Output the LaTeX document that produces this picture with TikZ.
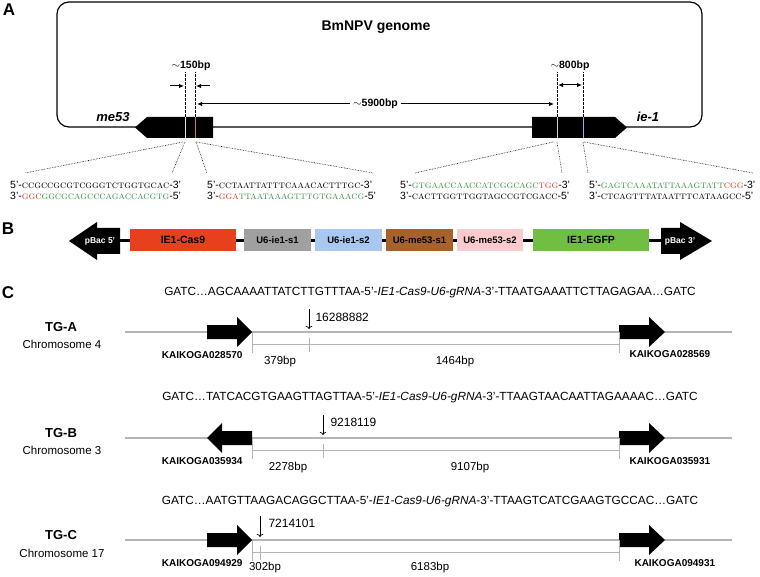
\documentclass[tikz,border=0pt]{standalone}
\usepackage{fontspec}
\usepackage{amsmath}
\setmainfont{Liberation Sans}
\newfontfamily\seqfont{lmromancaps10-regular}[Extension=.otf]
\usetikzlibrary{arrows.meta}

\definecolor{seqred}{RGB}{214,62,42}
\definecolor{seqgreen}{RGB}{58,150,72}
\definecolor{cas9red}{RGB}{232,64,28}
\definecolor{ieone}{RGB}{160,160,160}
\definecolor{ietwo}{RGB}{168,200,242}
\definecolor{meone}{RGB}{166,98,42}
\definecolor{metwo}{RGB}{250,202,206}
\definecolor{egfp}{RGB}{112,190,66}
\definecolor{chrgray}{RGB}{180,180,180}

\newcommand{\seq}[1]{{\seqfont\lowercase{#1}}}

\begin{document}
\begin{tikzpicture}[x=1pt, y=-1pt,
    panel/.style={font=\bfseries\fontsize{17}{17}\selectfont},
    seqline/.style={anchor=base west, inner sep=0pt, font=\fontsize{10.5}{12}\selectfont},
    siteline/.style={dashed, dash pattern=on 2.5pt off 1.5pt, line width=1pt},
    fan/.style={densely dotted, line width=0.6pt},
    dimarrow/.style={line width=1pt, {Latex[length=5pt,width=4.5pt]}-{Latex[length=5pt,width=4.5pt]}},
    dimlabel/.style={font=\bfseries\fontsize{10.5}{12}\selectfont},
    box/.style={minimum height=22pt, inner sep=0pt, font=\bfseries\fontsize{9.5}{11}\selectfont},
    chrline/.style={draw=chrgray, line width=1.5pt},
    bracket/.style={draw=chrgray, line width=1pt},
    tglabel/.style={font=\bfseries\fontsize{13}{15}\selectfont},
    chrlabel/.style={font=\fontsize{11.5}{13}\selectfont},
    kaiko/.style={font=\bfseries\fontsize{10}{12}\selectfont},
    bplabel/.style={font=\fontsize{11.5}{13}\selectfont},
    cutlabel/.style={anchor=west, font=\fontsize{12}{14}\selectfont},
    insert/.style={font=\fontsize{11.8}{14}\selectfont}]
  \useasboundingbox (0,0) rectangle (760,577);

  % Pannello A
  \node[panel] (lblA) at (9,10) {A};
  \draw[line width=1.2pt, rounded corners=12pt] (57,2) rectangle (702,127);
  \node[font=\bfseries\fontsize{14}{16}\selectfont] (genome) at (376,27) {BmNPV genome};

  % geni me53 e ie-1
  \fill (135,127.5) -- (147,117) -- (213,117) -- (213,138) -- (147,138) -- cycle;
  \fill (532,117) -- (615,117) -- (627,127.5) -- (615,138) -- (532,138) -- cycle;
  \node[font=\bfseries\itshape\fontsize{13}{14}\selectfont] (me53) at (113,117) {me53};
  \node[font=\bfseries\itshape\fontsize{13}{14}\selectfont] (ie1) at (648,117) {ie-1};

  % siti di taglio
  \coordinate (s1) at (185,117);
  \coordinate (s2) at (195,117);
  \coordinate (s3) at (557,117);
  \coordinate (s4) at (583,117);
  \draw[draw=pink!60!white, line width=1pt] (s1) -- ++(0,21);
  \draw[draw={rgb,255:red,205;green,125;blue,45}, line width=1pt] (s2) -- ++(0,21);
  \draw[draw=gray!35, line width=1pt] (s3) -- ++(0,21);
  \draw[draw={rgb,255:red,150;green,175;blue,225}, line width=1pt] (s4) -- ++(0,21);
  \foreach \s in {s1,s2,s3,s4}
    \draw[siteline] (\s) -- ++(0,-45);

  % distanze
  \node[dimlabel] (d150) at (191,66) {$\sim$150bp};
  \coordinate (a1) at (170,86);
  \coordinate (a2) at (184,86);
  \coordinate (a3) at (210,86);
  \coordinate (a4) at (196,86);
  \draw[line width=1pt, -{Latex[length=5pt,width=4.5pt]}] (a1) -- (a2);
  \draw[line width=1pt, -{Latex[length=5pt,width=4.5pt]}] (a3) -- (a4);
  \coordinate (b1) at (197,104);
  \coordinate (b2) at (554,104);
  \draw[dimarrow] (b1) -- node[fill=white, inner sep=3pt, dimlabel] (d5900) {$\sim$5900bp} (b2);
  \node[dimlabel] (d800) at (570,66) {$\sim$800bp};
  \coordinate (c1) at (558,85);
  \coordinate (c2) at (582,85);
  \draw[dimarrow] (c1) -- (c2);

  % linee a ventaglio
  \draw[fan] (183,142) -- (25,173);
  \draw[fan] (185,142) -- (172,173);
  \draw[fan] (196,142) -- (207,173);
  \draw[fan] (196,142) -- (373,173);
  \draw[fan] (553,142) -- (415,173);
  \draw[fan] (557,142) -- (562,173);
  \draw[fan] (583,142) -- (588,173);
  \draw[fan] (584,142) -- (753,173);

  % sequenze gRNA
  \node[seqline] (g1a) at (10,189) {5'-\seq{CCGCCGCGTCGGGTCTGGTGCAC}-3'};
  \node[seqline] (g1b) at (10,200) {3'-\seq{\textcolor{seqred}{GGC}\textcolor{seqgreen}{GGCGCAGCCCAGACCACGTG}}-5'};
  \node[seqline] (g2a) at (207,189) {5'-\seq{CCTAATTATTTCAAACACTTTGC}-3'};
  \node[seqline] (g2b) at (207,200) {3'-\seq{\textcolor{seqred}{GGA}\textcolor{seqgreen}{TTAATAAAGTTTGTGAAACG}}-5'};
  \node[seqline] (g3a) at (400,189) {5'-\seq{\textcolor{seqgreen}{GTGAACCAACCATCGGCAGC}\textcolor{seqred}{TGG}}-3'};
  \node[seqline] (g3b) at (400,200) {3'-\seq{CACTTGGTTGGTAGCCGTCGACC}-5'};
  \node[seqline] (g4a) at (589,189) {5'-\seq{\textcolor{seqgreen}{GAGTCAAATATTAAAGTATT}\textcolor{seqred}{CGG}}-3'};
  \node[seqline] (g4b) at (589,200) {3'-\seq{CTCAGTTTATAATTTCATAAGCC}-5'};

  % Pannello B
  \node[panel] (lblB) at (8,229) {B};
  \coordinate (pb5) at (115,241);
  \coordinate (pb3) at (665,241);
  \draw[line width=3pt] (pb5) -- (pb3);
  \fill (69,241) -- (97,222) -- (97,228) -- (120,228) -- (120,254) -- (97,254) -- (97,260) -- cycle;
  \fill (712,241) -- (680,222) -- (680,228) -- (661,228) -- (661,254) -- (680,254) -- (680,260) -- cycle;
  \node[text=white, font=\bfseries\fontsize{8.5}{10}\selectfont] (pbac5) at (100,241) {pBac 5'};
  \node[text=white, font=\bfseries\fontsize{8.5}{10}\selectfont] (pbac3) at (680,241) {pBac 3'};
  \node[box, fill=cas9red, minimum width=106pt, font=\bfseries\fontsize{10.5}{12}\selectfont] (cas9) at (183,240) {IE1-Cas9};
  \node[box, fill=ieone, minimum width=67pt] (ies1) at (277.5,240) {U6-ie1-s1};
  \node[box, fill=ietwo, minimum width=67pt] (ies2) at (348.5,240) {U6-ie1-s2};
  \node[box, fill=meone, minimum width=67pt] (mes1) at (419.5,240) {U6-me53-s1};
  \node[box, fill=metwo, minimum width=66pt] (mes2) at (490,240) {U6-me53-s2};
  \node[box, fill=egfp, minimum width=116pt, font=\bfseries\fontsize{10.5}{12}\selectfont] (ie1egfp) at (591,240) {IE1-EGFP};

  % Pannello C
  \node[panel] (lblC) at (8,293) {C};

  % TG-A
  \node[insert] (seqA) at (430,293) {GATC…AGCAAAATTATCTTGTTTAA-5'-\textit{IE1-Cas9-U6-gRNA}-3'-TTAATGAAATTCTTAGAGAA…GATC};
  \node[tglabel] (tgA) at (61,327) {TG-A};
  \node[chrlabel] (chrA) at (62,344) {Chromosome 4};
  \coordinate (aL) at (125,332);
  \coordinate (aR) at (732,332);
  \draw[chrline] (aL) -- (aR);
  \fill (207,325) -- (237,325) -- (237,317) -- (252,332) -- (237,347) -- (237,339) -- (207,339) -- cycle;
  \fill (619,325) -- (649,325) -- (649,317) -- (665,332) -- (649,347) -- (649,339) -- (619,339) -- cycle;
  \coordinate (aB1) at (252,332);
  \coordinate (aB2) at (252,353);
  \coordinate (aB3) at (619,332);
  \coordinate (aB4) at (619,353);
  \draw[bracket] (aB1) -- (aB2);
  \draw[bracket] (aB3) -- (aB4);
  \draw[bracket] (252,344) -- (619,344);
  \draw[bracket] (309,338) -- (309,352);
  \coordinate (aCut) at (309,309);
  \coordinate (aCutEnd) at (309,329);
  \draw[->, line width=0.7pt] (aCut) -- (aCutEnd);
  \node[cutlabel] (cutA) at (312,317) {16288882};
  \node[kaiko, anchor=east] (kA1) at (246,355) {KAIKOGA028570};
  \node[kaiko, anchor=west] (kA2) at (626,354) {KAIKOGA028569};
  \node[bplabel] (bpA1) at (280,362) {379bp};
  \node[bplabel] (bpA2) at (455,362) {1464bp};

  % TG-B
  \node[insert] (seqB) at (430,398) {GATC…TATCACGTGAAGTTAGTTAA-5'-\textit{IE1-Cas9-U6-gRNA}-3'-TTAAGTAACAATTAGAAAAC…GATC};
  \node[tglabel] (tgB) at (61,433) {TG-B};
  \node[chrlabel] (chrB) at (62,450) {Chromosome 3};
  \coordinate (bL) at (125,438);
  \coordinate (bR) at (732,438);
  \draw[chrline] (bL) -- (bR);
  \fill (252,431) -- (222,431) -- (222,423) -- (207,438) -- (222,453) -- (222,445) -- (252,445) -- cycle;
  \fill (619,431) -- (649,431) -- (649,423) -- (665,438) -- (649,453) -- (649,445) -- (619,445) -- cycle;
  \coordinate (bB1) at (252,438);
  \coordinate (bB2) at (252,459);
  \coordinate (bB3) at (619,438);
  \coordinate (bB4) at (619,459);
  \draw[bracket] (bB1) -- (bB2);
  \draw[bracket] (bB3) -- (bB4);
  \draw[bracket] (252,450) -- (619,450);
  \draw[bracket] (323,444) -- (323,458);
  \coordinate (bCut) at (323,415);
  \coordinate (bCutEnd) at (323,435);
  \draw[->, line width=0.7pt] (bCut) -- (bCutEnd);
  \node[cutlabel] (cutB) at (327,422) {9218119};
  \node[kaiko, anchor=east] (kB1) at (246,461) {KAIKOGA035934};
  \node[kaiko, anchor=west] (kB2) at (626,461) {KAIKOGA035931};
  \node[bplabel] (bpB1) at (288,468) {2278bp};
  \node[bplabel] (bpB2) at (470,468) {9107bp};

  % TG-C
  \node[insert] (seqC) at (430,502) {GATC…AATGTTAAGACAGGCTTAA-5'-\textit{IE1-Cas9-U6-gRNA}-3'-TTAAGTCATCGAAGTGCCAC…GATC};
  \node[tglabel] (tgC) at (61,535) {TG-C};
  \node[chrlabel] (chrC) at (62,553) {Chromosome 17};
  \coordinate (cL) at (125,540);
  \coordinate (cR) at (732,540);
  \draw[chrline] (cL) -- (cR);
  \fill (207,533) -- (237,533) -- (237,525) -- (252,540) -- (237,555) -- (237,547) -- (207,547) -- cycle;
  \fill (619,533) -- (649,533) -- (649,525) -- (665,540) -- (649,555) -- (649,547) -- (619,547) -- cycle;
  \coordinate (cB1) at (252,540);
  \coordinate (cB2) at (252,561);
  \coordinate (cB3) at (619,540);
  \coordinate (cB4) at (619,561);
  \draw[bracket] (cB1) -- (cB2);
  \draw[bracket] (cB3) -- (cB4);
  \draw[bracket] (252,552) -- (619,552);
  \draw[bracket] (260,546) -- (260,560);
  \coordinate (cCut) at (260,516);
  \coordinate (cCutEnd) at (260,537);
  \draw[->, line width=0.7pt] (cCut) -- (cCutEnd);
  \node[cutlabel] (cutC) at (265,523) {7214101};
  \node[kaiko, anchor=east] (kC1) at (246,563) {KAIKOGA094929};
  \node[kaiko, anchor=west] (kC2) at (631,563) {KAIKOGA094931};
  \node[bplabel] (bpC1) at (265,568) {302bp};
  \node[bplabel] (bpC2) at (430,568) {6183bp};
\end{tikzpicture}
\end{document}
